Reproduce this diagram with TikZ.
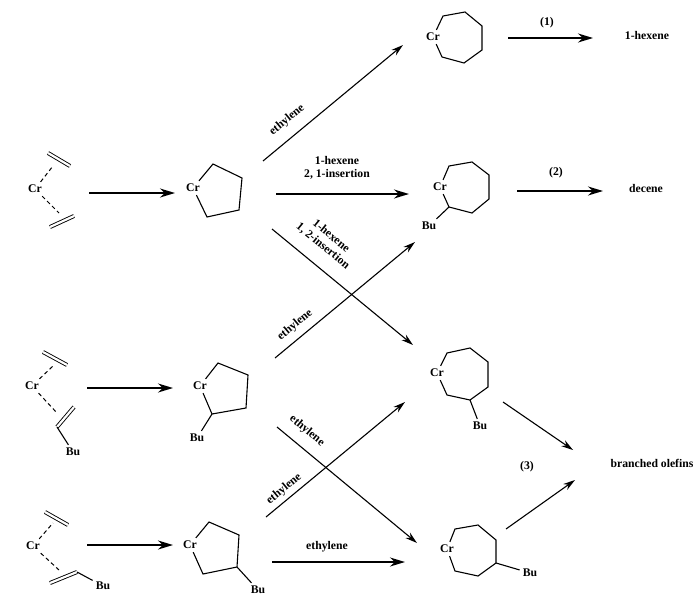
\documentclass[tikz,border=0pt]{standalone}
\usepackage{fontspec}
\setmainfont{Liberation Serif}
\usetikzlibrary{arrows.meta}

\begin{document}
\begin{tikzpicture}[x=1pt, y=-1pt,
  every node/.style={font=\bfseries\fontsize{11.7}{13}\selectfont, inner sep=3pt},
  bond/.style={line width=1.1pt},
  dbl/.style={double, double distance=2.2pt, line width=0.9pt},
  pibond/.style={line width=1pt, dash pattern=on 4pt off 3pt},
  rxn/.style={line width=1.8pt, -{Stealth[length=15pt, width=9pt]}},
  route/.style={line width=1.1pt, -{Stealth[length=12pt, width=7pt]}}]
  \useasboundingbox (0,0) rectangle (700,615);

  \node (cr1) at (35,189) {Cr};
  \draw[dbl] (48,153) -- (70,166);
  \draw[dbl] (50,227) -- (74,216);
  \draw[pibond] (cr1) -- (53,166);
  \draw[pibond] (cr1) -- (59,213);

  \node (cr2) at (32,386) {Cr};
  \node (bu1) at (73,452) {Bu};
  \draw[dbl] (43,352) -- (67,365);
  \draw[dbl] (57,427) -- (74,407);
  \draw[pibond] (cr2) -- (53,366);
  \draw[pibond] (cr2) -- (57,413);
  \draw[bond] (57,427) -- (bu1);

  \node (cr3) at (33,546) {Cr};
  \node (bu2) at (103,586) {Bu};
  \draw[dbl] (45,512) -- (68,525);
  \draw[dbl] (50,583) -- (77,572);
  \draw[pibond] (cr3) -- (53,523);
  \draw[pibond] (cr3) -- (59,570);
  \draw[bond] (77,572) -- (bu2);

  \node (cr4) at (193,188) {Cr};
  \draw[bond] (cr4) -- (213,164) -- (242,178) -- (239,210) -- (207,217) -- (cr4);

  \node (cr5) at (200,386) {Cr};
  \node (bu3) at (197,438) {Bu};
  \draw[bond] (cr5) -- (218,363) -- (248,375) -- (246,408) -- (212,414) -- (cr5);
  \draw[bond] (212,414) -- (bu3);

  \node (cr6) at (190,545) {Cr};
  \node (bu4) at (258,590) {Bu};
  \draw[bond] (cr6) -- (209,522) -- (239,535) -- (237,567) -- (203,574) -- (cr6);
  \draw[bond] (237,567) -- (bu4);

  \node (cr7) at (433,37) {Cr};
  \draw[bond] (cr7) -- (443,16) -- (465,12) -- (482,26) -- (482,50) -- (464,63) -- (442,57) -- (cr7);

  \node (cr8) at (440,187) {Cr};
  \node (bu5) at (429,226) {Bu};
  \draw[bond] (cr8) -- (449,166) -- (472,162) -- (489,175) -- (489,199) -- (472,213) -- (449,207) -- (cr8);
  \draw[bond] (449,207) -- (bu5);

  \node (cr9) at (437,373) {Cr};
  \node (bu6) at (480,426) {Bu};
  \draw[bond] (cr9) -- (447,353) -- (470,348) -- (488,362) -- (488,387) -- (470,400) -- (447,395) -- (cr9);
  \draw[bond] (470,400) -- (bu6);

  \node (cr10) at (447,549) {Cr};
  \node (bu7) at (530,573) {Bu};
  \draw[bond] (cr10) -- (455,529) -- (478,525) -- (496,540) -- (496,563) -- (478,576) -- (455,571) -- (cr10);
  \draw[bond] (496,563) -- (bu7);

  \node (hex) at (647,35) {1-hexene};
  \node (dec) at (646,188) {decene};
  \node (bra) at (652,463) {branched olefins};
  \node (st1) at (547,23) {(1)};
  \node (st2) at (556,173) {(2)};
  \node (st3) at (527,467) {(3)};

  \node[rotate=39.6] (l1) at (287,120) {ethylene};
  \node[align=center] (l2) at (337,167.5) {1-hexene\\2, 1-insertion};
  \node[align=center, rotate=-39.4] (l3) at (327,241) {1-hexene\\1, 2-insertion};
  \node[rotate=39.6] (l4) at (295,325) {ethylene};
  \node[rotate=-39.6] (l5) at (307,431) {ethylene};
  \node[rotate=39.6] (l6) at (284,489) {ethylene};
  \node (l7) at (327,547) {ethylene};

  \coordinate (a1) at (89,193);   \coordinate (b1) at (175,193);
  \coordinate (a2) at (87,388);   \coordinate (b2) at (173,388);
  \coordinate (a3) at (87,545);   \coordinate (b3) at (173,545);
  \coordinate (a4) at (263,161);  \coordinate (b4) at (403,45);
  \coordinate (a5) at (276,194);  \coordinate (b5) at (409,194);
  \coordinate (a6) at (272,229);  \coordinate (b6) at (413,345);
  \coordinate (a7) at (275,358);  \coordinate (b7) at (415,242);
  \coordinate (a8) at (277,427);  \coordinate (b8) at (417,543);
  \coordinate (a9) at (266,517);  \coordinate (b9) at (405,402);
  \coordinate (a10) at (272,562); \coordinate (b10) at (405,562);
  \coordinate (a11) at (508,38);  \coordinate (b11) at (593,38);
  \coordinate (a12) at (517,191); \coordinate (b12) at (603,191);
  \coordinate (a13) at (503,402); \coordinate (b13) at (573,450);
  \coordinate (a14) at (506,529); \coordinate (b14) at (575,480);

  \draw[rxn] (a1) -- (b1);
  \draw[rxn] (a2) -- (b2);
  \draw[rxn] (a3) -- (b3);
  \draw[route] (a4) -- (b4);
  \draw[rxn] (a5) -- (b5);
  \draw[route] (a6) -- (b6);
  \draw[route] (a7) -- (b7);
  \draw[route] (a8) -- (b8);
  \draw[route] (a9) -- (b9);
  \draw[rxn] (a10) -- (b10);
  \draw[rxn] (a11) -- (b11);
  \draw[rxn] (a12) -- (b12);
  \draw[route] (a13) -- (b13);
  \draw[route] (a14) -- (b14);
\end{tikzpicture}
\end{document}
